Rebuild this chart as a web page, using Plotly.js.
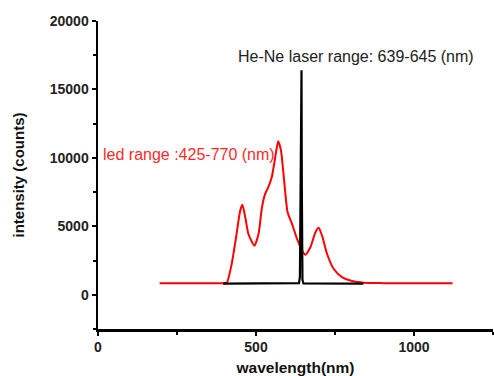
<!DOCTYPE html>
<html>
<head>
<meta charset="utf-8">
<script src="https://cdn.plot.ly/plotly-3.0.1.min.js"></script>
<style>html,body{margin:0;padding:0;background:#fff;}#chart{width:494px;height:376px;}</style>
</head>
<body>
<div id="chart"></div>
<script>
// LED spectrum (red)
var ledWavelength = [195, 300, 400, 408, 423, 437, 450, 457, 466, 476, 495, 508, 519, 529, 539, 550, 561, 570, 579, 587, 600, 614, 630, 646, 656, 672, 688, 698, 709, 725, 746, 773, 804, 841, 900, 1000, 1122];
var ledIntensity  = [850, 850, 850, 900, 2250, 4200, 6150, 6570, 5660, 4440, 3590, 4440, 6400, 7370, 7860, 8600, 10060, 11210, 10550, 8840, 6030, 5180, 4080, 3220, 2930, 3470, 4560, 4890, 4320, 2980, 1880, 1270, 1000, 880, 850, 850, 850];
// He-Ne laser spectrum (black)
var laserWavelength = [396, 500, 600, 636, 639, 641, 642, 644, 645, 647, 650, 700, 840];
var laserIntensity  = [820, 820, 820, 850, 1300, 9000, 16400, 16400, 8000, 1100, 830, 820, 820];
var xTicks = [0, 500, 1000];
var yTicks = [0, 5000, 10000, 15000, 20000];

var traces = [
  {x: ledWavelength, y: ledIntensity, type: 'scatter', mode: 'lines',
   line: {color: '#ff0000', width: 2, shape: 'spline', smoothing: 0.6}, hoverinfo: 'none'},
  {x: laserWavelength, y: laserIntensity, type: 'scatter', mode: 'lines',
   line: {color: '#000000', width: 2.2}, hoverinfo: 'none'}
];

var tickFont = {family: 'Liberation Sans, Arial, sans-serif', size: 14, color: '#222', weight: 'bold'};
var layout = {
  width: 494, height: 376,
  margin: {l: 98, r: 1, t: 21, b: 47},
  paper_bgcolor: '#fff', plot_bgcolor: '#fff',
  showlegend: false,
  xaxis: {
    range: [0, 1250], tickvals: xTicks, ticktext: xTicks.map(String),
    showgrid: false, zeroline: false, showline: true, linecolor: '#000', linewidth: 2.5,
    ticks: 'outside', ticklen: 4, tickwidth: 2, tickcolor: '#000',
    minor: {tickvals: [250, 750, 1250], ticks: 'outside', ticklen: 3, tickwidth: 2, tickcolor: '#000', showgrid: false},
    tickfont: tickFont,
    title: {text: 'wavelength(nm)', font: {family: 'Liberation Sans, Arial, sans-serif', size: 15.5, color: '#111', weight: 'bold'}, standoff: 10}
  },
  yaxis: {
    range: [-2500, 20000], tickvals: yTicks, ticktext: yTicks.map(String),
    showgrid: false, zeroline: false, showline: true, linecolor: '#000', linewidth: 2.5,
    ticks: 'outside', ticklen: 4, tickwidth: 2, tickcolor: '#000',
    minor: {tickvals: [-2500, 2500, 7500, 12500, 17500], ticks: 'outside', ticklen: 3, tickwidth: 2, tickcolor: '#000', showgrid: false},
    tickfont: tickFont,
    title: {text: 'intensity (counts)', font: {family: 'Liberation Sans, Arial, sans-serif', size: 15, color: '#111', weight: 'bold'}, standoff: 22}
  },
  annotations: [
    {x: 436, y: 17380, xref: 'x', yref: 'y', xanchor: 'left', yanchor: 'middle', showarrow: false,
     text: 'He-Ne laser range: 639-645 (nm)', font: {family: 'Liberation Sans, Arial, sans-serif', size: 16, color: '#222'}},
    {x: 8, y: 10220, xref: 'x', yref: 'y', xanchor: 'left', yanchor: 'middle', showarrow: false,
     text: 'led range :425-770 (nm)', font: {family: 'Liberation Sans, Arial, sans-serif', size: 16, color: '#ff2a2a'}}
  ]
};
Plotly.newPlot('chart', traces, layout, {staticPlot: true, displayModeBar: false});
</script>
</body>
</html>
